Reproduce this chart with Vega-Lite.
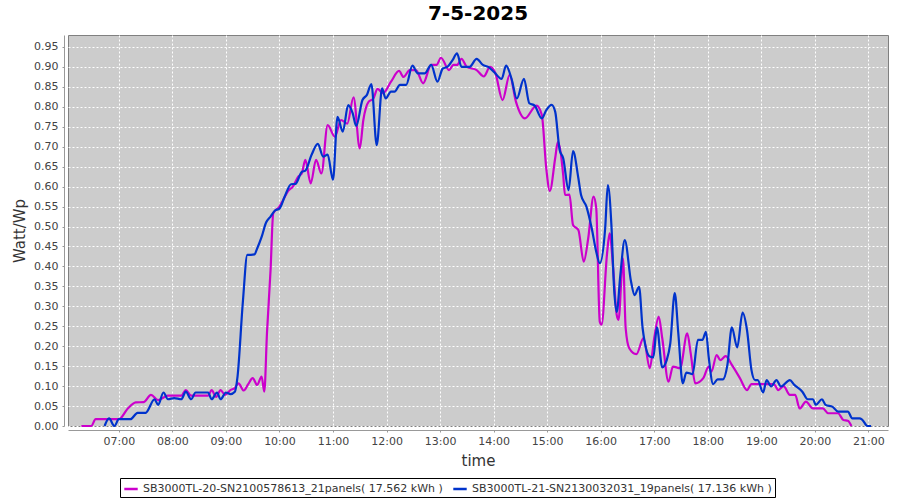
{
  "$schema": "https://vega.github.io/schema/vega-lite/v6.json",
  "width": 820,
  "height": 391,
  "autosize": {"type": "none"},
  "padding": {"left": 68, "top": 35, "right": 12, "bottom": 74},
  "background": "white",
  "title": {"text": "7-5-2025", "fontSize": 20, "fontWeight": "bold", "font": "DejaVu Sans", "color": "#000000", "anchor": "middle", "offset": 11},
  "config": {
    "view": {"fill": "#cccccc", "stroke": "#808080", "strokeWidth": 1},
    "font": "DejaVu Sans"
  },
  "data": {"values": [
    {"s":"a","t":"2025-05-07T06:18","v":0},{"s":"a","t":"2025-05-07T06:29","v":0},{"s":"a","t":"2025-05-07T06:34","v":0.017},{"s":"a","t":"2025-05-07T06:45","v":0.017},{"s":"a","t":"2025-05-07T07:00","v":0.017},{"s":"a","t":"2025-05-07T07:10","v":0.044},{"s":"a","t":"2025-05-07T07:19","v":0.059},{"s":"a","t":"2025-05-07T07:28","v":0.06},{"s":"a","t":"2025-05-07T07:36","v":0.078},{"s":"a","t":"2025-05-07T07:44","v":0.065},{"s":"a","t":"2025-05-07T07:55","v":0.076},{"s":"a","t":"2025-05-07T08:05","v":0.076},{"s":"a","t":"2025-05-07T08:10","v":0.076},{"s":"a","t":"2025-05-07T08:15","v":0.09},{"s":"a","t":"2025-05-07T08:21","v":0.076},{"s":"a","t":"2025-05-07T08:30","v":0.076},{"s":"a","t":"2025-05-07T08:40","v":0.076},{"s":"a","t":"2025-05-07T08:44","v":0.09},{"s":"a","t":"2025-05-07T08:49","v":0.073},{"s":"a","t":"2025-05-07T08:54","v":0.09},{"s":"a","t":"2025-05-07T08:59","v":0.078},{"s":"a","t":"2025-05-07T09:05","v":0.09},{"s":"a","t":"2025-05-07T09:10","v":0.095},{"s":"a","t":"2025-05-07T09:14","v":0.107},{"s":"a","t":"2025-05-07T09:20","v":0.089},{"s":"a","t":"2025-05-07T09:25","v":0.105},{"s":"a","t":"2025-05-07T09:30","v":0.12},{"s":"a","t":"2025-05-07T09:35","v":0.103},{"s":"a","t":"2025-05-07T09:40","v":0.124},{"s":"a","t":"2025-05-07T09:43","v":0.086},{"s":"a","t":"2025-05-07T09:46","v":0.233},{"s":"a","t":"2025-05-07T09:50","v":0.39},{"s":"a","t":"2025-05-07T09:53","v":0.533},{"s":"a","t":"2025-05-07T10:00","v":0.55},{"s":"a","t":"2025-05-07T10:04","v":0.566},{"s":"a","t":"2025-05-07T10:10","v":0.59},{"s":"a","t":"2025-05-07T10:15","v":0.6},{"s":"a","t":"2025-05-07T10:21","v":0.625},{"s":"a","t":"2025-05-07T10:25","v":0.633},{"s":"a","t":"2025-05-07T10:29","v":0.667},{"s":"a","t":"2025-05-07T10:35","v":0.608},{"s":"a","t":"2025-05-07T10:41","v":0.667},{"s":"a","t":"2025-05-07T10:47","v":0.633},{"s":"a","t":"2025-05-07T10:54","v":0.754},{"s":"a","t":"2025-05-07T11:02","v":0.725},{"s":"a","t":"2025-05-07T11:09","v":0.767},{"s":"a","t":"2025-05-07T11:16","v":0.758},{"s":"a","t":"2025-05-07T11:23","v":0.824},{"s":"a","t":"2025-05-07T11:30","v":0.696},{"s":"a","t":"2025-05-07T11:34","v":0.767},{"s":"a","t":"2025-05-07T11:40","v":0.813},{"s":"a","t":"2025-05-07T11:45","v":0.82},{"s":"a","t":"2025-05-07T11:50","v":0.845},{"s":"a","t":"2025-05-07T11:56","v":0.834},{"s":"a","t":"2025-05-07T12:05","v":0.863},{"s":"a","t":"2025-05-07T12:14","v":0.89},{"s":"a","t":"2025-05-07T12:19","v":0.875},{"s":"a","t":"2025-05-07T12:26","v":0.892},{"s":"a","t":"2025-05-07T12:33","v":0.892},{"s":"a","t":"2025-05-07T12:41","v":0.859},{"s":"a","t":"2025-05-07T12:50","v":0.905},{"s":"a","t":"2025-05-07T12:56","v":0.905},{"s":"a","t":"2025-05-07T13:01","v":0.923},{"s":"a","t":"2025-05-07T13:10","v":0.892},{"s":"a","t":"2025-05-07T13:15","v":0.905},{"s":"a","t":"2025-05-07T13:19","v":0.905},{"s":"a","t":"2025-05-07T13:24","v":0.92},{"s":"a","t":"2025-05-07T13:30","v":0.9},{"s":"a","t":"2025-05-07T13:41","v":0.892},{"s":"a","t":"2025-05-07T13:49","v":0.876},{"s":"a","t":"2025-05-07T13:56","v":0.9},{"s":"a","t":"2025-05-07T14:02","v":0.884},{"s":"a","t":"2025-05-07T14:10","v":0.817},{"s":"a","t":"2025-05-07T14:18","v":0.88},{"s":"a","t":"2025-05-07T14:25","v":0.813},{"s":"a","t":"2025-05-07T14:35","v":0.771},{"s":"a","t":"2025-05-07T14:48","v":0.803},{"s":"a","t":"2025-05-07T14:54","v":0.78},{"s":"a","t":"2025-05-07T14:59","v":0.646},{"s":"a","t":"2025-05-07T15:03","v":0.589},{"s":"a","t":"2025-05-07T15:09","v":0.671},{"s":"a","t":"2025-05-07T15:12","v":0.712},{"s":"a","t":"2025-05-07T15:18","v":0.629},{"s":"a","t":"2025-05-07T15:20","v":0.579},{"s":"a","t":"2025-05-07T15:25","v":0.58},{"s":"a","t":"2025-05-07T15:29","v":0.504},{"s":"a","t":"2025-05-07T15:35","v":0.491},{"s":"a","t":"2025-05-07T15:41","v":0.412},{"s":"a","t":"2025-05-07T15:46","v":0.47},{"s":"a","t":"2025-05-07T15:52","v":0.575},{"s":"a","t":"2025-05-07T15:55","v":0.546},{"s":"a","t":"2025-05-07T15:59","v":0.261},{"s":"a","t":"2025-05-07T16:01","v":0.254},{"s":"a","t":"2025-05-07T16:07","v":0.429},{"s":"a","t":"2025-05-07T16:10","v":0.483},{"s":"a","t":"2025-05-07T16:14","v":0.395},{"s":"a","t":"2025-05-07T16:18","v":0.278},{"s":"a","t":"2025-05-07T16:20","v":0.266},{"s":"a","t":"2025-05-07T16:25","v":0.42},{"s":"a","t":"2025-05-07T16:28","v":0.245},{"s":"a","t":"2025-05-07T16:32","v":0.195},{"s":"a","t":"2025-05-07T16:40","v":0.18},{"s":"a","t":"2025-05-07T16:48","v":0.22},{"s":"a","t":"2025-05-07T16:55","v":0.145},{"s":"a","t":"2025-05-07T17:00","v":0.22},{"s":"a","t":"2025-05-07T17:05","v":0.274},{"s":"a","t":"2025-05-07T17:09","v":0.22},{"s":"a","t":"2025-05-07T17:16","v":0.111},{"s":"a","t":"2025-05-07T17:21","v":0.149},{"s":"a","t":"2025-05-07T17:29","v":0.145},{"s":"a","t":"2025-05-07T17:37","v":0.232},{"s":"a","t":"2025-05-07T17:41","v":0.18},{"s":"a","t":"2025-05-07T17:46","v":0.107},{"s":"a","t":"2025-05-07T17:55","v":0.12},{"s":"a","t":"2025-05-07T18:01","v":0.149},{"s":"a","t":"2025-05-07T18:04","v":0.136},{"s":"a","t":"2025-05-07T18:10","v":0.178},{"s":"a","t":"2025-05-07T18:14","v":0.165},{"s":"a","t":"2025-05-07T18:20","v":0.175},{"s":"a","t":"2025-05-07T18:27","v":0.153},{"s":"a","t":"2025-05-07T18:36","v":0.12},{"s":"a","t":"2025-05-07T18:44","v":0.09},{"s":"a","t":"2025-05-07T18:49","v":0.105},{"s":"a","t":"2025-05-07T18:59","v":0.105},{"s":"a","t":"2025-05-07T19:14","v":0.105},{"s":"a","t":"2025-05-07T19:19","v":0.09},{"s":"a","t":"2025-05-07T19:25","v":0.1},{"s":"a","t":"2025-05-07T19:32","v":0.078},{"s":"a","t":"2025-05-07T19:38","v":0.078},{"s":"a","t":"2025-05-07T19:43","v":0.044},{"s":"a","t":"2025-05-07T19:50","v":0.061},{"s":"a","t":"2025-05-07T19:58","v":0.044},{"s":"a","t":"2025-05-07T20:09","v":0.044},{"s":"a","t":"2025-05-07T20:15","v":0.032},{"s":"a","t":"2025-05-07T20:26","v":0.032},{"s":"a","t":"2025-05-07T20:32","v":0.015},{"s":"a","t":"2025-05-07T20:37","v":0.013},{"s":"a","t":"2025-05-07T20:41","v":0},
    {"s":"b","t":"2025-05-07T06:44","v":0},{"s":"b","t":"2025-05-07T06:49","v":0.019},{"s":"b","t":"2025-05-07T06:55","v":0},{"s":"b","t":"2025-05-07T07:00","v":0.017},{"s":"b","t":"2025-05-07T07:13","v":0.017},{"s":"b","t":"2025-05-07T07:21","v":0.033},{"s":"b","t":"2025-05-07T07:30","v":0.033},{"s":"b","t":"2025-05-07T07:40","v":0.067},{"s":"b","t":"2025-05-07T07:44","v":0.053},{"s":"b","t":"2025-05-07T07:50","v":0.084},{"s":"b","t":"2025-05-07T07:55","v":0.067},{"s":"b","t":"2025-05-07T08:02","v":0.07},{"s":"b","t":"2025-05-07T08:10","v":0.067},{"s":"b","t":"2025-05-07T08:15","v":0.086},{"s":"b","t":"2025-05-07T08:21","v":0.067},{"s":"b","t":"2025-05-07T08:26","v":0.084},{"s":"b","t":"2025-05-07T08:40","v":0.084},{"s":"b","t":"2025-05-07T08:44","v":0.067},{"s":"b","t":"2025-05-07T08:50","v":0.084},{"s":"b","t":"2025-05-07T08:54","v":0.067},{"s":"b","t":"2025-05-07T09:00","v":0.084},{"s":"b","t":"2025-05-07T09:05","v":0.08},{"s":"b","t":"2025-05-07T09:10","v":0.086},{"s":"b","t":"2025-05-07T09:13","v":0.124},{"s":"b","t":"2025-05-07T09:19","v":0.312},{"s":"b","t":"2025-05-07T09:24","v":0.429},{"s":"b","t":"2025-05-07T09:28","v":0.429},{"s":"b","t":"2025-05-07T09:32","v":0.43},{"s":"b","t":"2025-05-07T09:35","v":0.445},{"s":"b","t":"2025-05-07T09:40","v":0.474},{"s":"b","t":"2025-05-07T09:45","v":0.51},{"s":"b","t":"2025-05-07T09:50","v":0.525},{"s":"b","t":"2025-05-07T09:55","v":0.54},{"s":"b","t":"2025-05-07T10:00","v":0.545},{"s":"b","t":"2025-05-07T10:06","v":0.576},{"s":"b","t":"2025-05-07T10:13","v":0.606},{"s":"b","t":"2025-05-07T10:18","v":0.607},{"s":"b","t":"2025-05-07T10:25","v":0.637},{"s":"b","t":"2025-05-07T10:29","v":0.64},{"s":"b","t":"2025-05-07T10:36","v":0.68},{"s":"b","t":"2025-05-07T10:43","v":0.707},{"s":"b","t":"2025-05-07T10:49","v":0.675},{"s":"b","t":"2025-05-07T10:54","v":0.68},{"s":"b","t":"2025-05-07T11:00","v":0.617},{"s":"b","t":"2025-05-07T11:05","v":0.775},{"s":"b","t":"2025-05-07T11:11","v":0.738},{"s":"b","t":"2025-05-07T11:17","v":0.804},{"s":"b","t":"2025-05-07T11:22","v":0.784},{"s":"b","t":"2025-05-07T11:26","v":0.752},{"s":"b","t":"2025-05-07T11:33","v":0.817},{"s":"b","t":"2025-05-07T11:38","v":0.83},{"s":"b","t":"2025-05-07T11:43","v":0.857},{"s":"b","t":"2025-05-07T11:49","v":0.704},{"s":"b","t":"2025-05-07T11:55","v":0.846},{"s":"b","t":"2025-05-07T11:59","v":0.821},{"s":"b","t":"2025-05-07T12:05","v":0.838},{"s":"b","t":"2025-05-07T12:09","v":0.838},{"s":"b","t":"2025-05-07T12:15","v":0.855},{"s":"b","t":"2025-05-07T12:22","v":0.855},{"s":"b","t":"2025-05-07T12:29","v":0.903},{"s":"b","t":"2025-05-07T12:35","v":0.884},{"s":"b","t":"2025-05-07T12:43","v":0.884},{"s":"b","t":"2025-05-07T12:50","v":0.905},{"s":"b","t":"2025-05-07T12:57","v":0.863},{"s":"b","t":"2025-05-07T13:03","v":0.896},{"s":"b","t":"2025-05-07T13:08","v":0.9},{"s":"b","t":"2025-05-07T13:14","v":0.917},{"s":"b","t":"2025-05-07T13:19","v":0.934},{"s":"b","t":"2025-05-07T13:24","v":0.9},{"s":"b","t":"2025-05-07T13:33","v":0.9},{"s":"b","t":"2025-05-07T13:41","v":0.92},{"s":"b","t":"2025-05-07T13:48","v":0.905},{"s":"b","t":"2025-05-07T13:54","v":0.9},{"s":"b","t":"2025-05-07T14:01","v":0.886},{"s":"b","t":"2025-05-07T14:09","v":0.87},{"s":"b","t":"2025-05-07T14:14","v":0.903},{"s":"b","t":"2025-05-07T14:20","v":0.871},{"s":"b","t":"2025-05-07T14:26","v":0.821},{"s":"b","t":"2025-05-07T14:34","v":0.87},{"s":"b","t":"2025-05-07T14:40","v":0.809},{"s":"b","t":"2025-05-07T14:46","v":0.803},{"s":"b","t":"2025-05-07T14:54","v":0.771},{"s":"b","t":"2025-05-07T14:59","v":0.792},{"s":"b","t":"2025-05-07T15:05","v":0.805},{"s":"b","t":"2025-05-07T15:09","v":0.788},{"s":"b","t":"2025-05-07T15:14","v":0.692},{"s":"b","t":"2025-05-07T15:18","v":0.671},{"s":"b","t":"2025-05-07T15:24","v":0.591},{"s":"b","t":"2025-05-07T15:29","v":0.689},{"s":"b","t":"2025-05-07T15:35","v":0.621},{"s":"b","t":"2025-05-07T15:38","v":0.579},{"s":"b","t":"2025-05-07T15:44","v":0.55},{"s":"b","t":"2025-05-07T15:50","v":0.495},{"s":"b","t":"2025-05-07T15:55","v":0.437},{"s":"b","t":"2025-05-07T15:59","v":0.408},{"s":"b","t":"2025-05-07T16:05","v":0.495},{"s":"b","t":"2025-05-07T16:08","v":0.604},{"s":"b","t":"2025-05-07T16:12","v":0.504},{"s":"b","t":"2025-05-07T16:15","v":0.345},{"s":"b","t":"2025-05-07T16:18","v":0.286},{"s":"b","t":"2025-05-07T16:22","v":0.378},{"s":"b","t":"2025-05-07T16:27","v":0.466},{"s":"b","t":"2025-05-07T16:34","v":0.362},{"s":"b","t":"2025-05-07T16:38","v":0.328},{"s":"b","t":"2025-05-07T16:43","v":0.349},{"s":"b","t":"2025-05-07T16:47","v":0.245},{"s":"b","t":"2025-05-07T16:55","v":0.174},{"s":"b","t":"2025-05-07T16:59","v":0.172},{"s":"b","t":"2025-05-07T17:03","v":0.247},{"s":"b","t":"2025-05-07T17:09","v":0.147},{"s":"b","t":"2025-05-07T17:14","v":0.165},{"s":"b","t":"2025-05-07T17:18","v":0.207},{"s":"b","t":"2025-05-07T17:23","v":0.333},{"s":"b","t":"2025-05-07T17:27","v":0.232},{"s":"b","t":"2025-05-07T17:32","v":0.107},{"s":"b","t":"2025-05-07T17:36","v":0.134},{"s":"b","t":"2025-05-07T17:43","v":0.13},{"s":"b","t":"2025-05-07T17:49","v":0.216},{"s":"b","t":"2025-05-07T17:54","v":0.216},{"s":"b","t":"2025-05-07T17:58","v":0.236},{"s":"b","t":"2025-05-07T18:01","v":0.174},{"s":"b","t":"2025-05-07T18:06","v":0.105},{"s":"b","t":"2025-05-07T18:11","v":0.117},{"s":"b","t":"2025-05-07T18:17","v":0.117},{"s":"b","t":"2025-05-07T18:22","v":0.153},{"s":"b","t":"2025-05-07T18:27","v":0.247},{"s":"b","t":"2025-05-07T18:33","v":0.197},{"s":"b","t":"2025-05-07T18:39","v":0.284},{"s":"b","t":"2025-05-07T18:44","v":0.24},{"s":"b","t":"2025-05-07T18:49","v":0.14},{"s":"b","t":"2025-05-07T18:53","v":0.115},{"s":"b","t":"2025-05-07T18:56","v":0.115},{"s":"b","t":"2025-05-07T19:02","v":0.084},{"s":"b","t":"2025-05-07T19:06","v":0.115},{"s":"b","t":"2025-05-07T19:11","v":0.099},{"s":"b","t":"2025-05-07T19:17","v":0.115},{"s":"b","t":"2025-05-07T19:22","v":0.099},{"s":"b","t":"2025-05-07T19:32","v":0.115},{"s":"b","t":"2025-05-07T19:37","v":0.103},{"s":"b","t":"2025-05-07T19:46","v":0.086},{"s":"b","t":"2025-05-07T19:52","v":0.067},{"s":"b","t":"2025-05-07T19:58","v":0.067},{"s":"b","t":"2025-05-07T20:01","v":0.053},{"s":"b","t":"2025-05-07T20:08","v":0.067},{"s":"b","t":"2025-05-07T20:12","v":0.053},{"s":"b","t":"2025-05-07T20:20","v":0.048},{"s":"b","t":"2025-05-07T20:26","v":0.036},{"s":"b","t":"2025-05-07T20:37","v":0.036},{"s":"b","t":"2025-05-07T20:42","v":0.019},{"s":"b","t":"2025-05-07T20:50","v":0.019},{"s":"b","t":"2025-05-07T20:53","v":0.016},{"s":"b","t":"2025-05-07T20:59","v":0},{"s":"b","t":"2025-05-07T21:03","v":0}
  ]},
  "mark": {"type": "line", "interpolate": "monotone", "strokeWidth": 2.2},
  "encoding": {
    "x": {
      "field": "t", "type": "temporal", "title": "time",
      "scale": {"domain": [{"year": 2025, "month": 5, "date": 7, "hours": 6, "minutes": 3}, {"year": 2025, "month": 5, "date": 7, "hours": 21, "minutes": 22}]},
      "axis": {"format": "%H:%M", "tickCount": "hour", "labelFont": "DejaVu Sans", "labelFontSize": 11, "labelColor": "#444444", "titleFont": "DejaVu Sans", "titleFontSize": 15, "titleFontWeight": "normal", "titleColor": "#333333", "titlePadding": 7, "offset": 4, "tickSize": 2, "tickColor": "#999999", "domainColor": "#999999", "labelPadding": 3, "grid": true, "gridColor": "#ffffff", "gridDash": [2, 2], "gridOpacity": 1, "labelFlush": false}
    },
    "y": {
      "field": "v", "type": "quantitative", "title": "Watt/Wp",
      "scale": {"domain": [0, 0.98], "nice": false},
      "axis": {"values": [0, 0.05, 0.1, 0.15, 0.2, 0.25, 0.3, 0.35, 0.4, 0.45, 0.5, 0.55, 0.6, 0.65, 0.7, 0.75, 0.8, 0.85, 0.9, 0.95], "format": ".2f", "labelFont": "DejaVu Sans", "labelFontSize": 11, "labelColor": "#444444", "titleFont": "DejaVu Sans", "titleFontSize": 15, "titleFontWeight": "normal", "titleColor": "#333333", "titlePadding": 6, "offset": 4, "tickSize": 2, "tickColor": "#999999", "domainColor": "#999999", "labelPadding": 4, "grid": true, "gridColor": "#ffffff", "gridDash": [2, 2], "gridOpacity": 1}
    },
    "color": {
      "field": "s", "type": "nominal",
      "scale": {"domain": ["a", "b"], "range": ["#cc00cc", "#0033cc"]},
      "legend": {"title": null, "orient": "none", "legendX": 52, "legendY": 443, "direction": "horizontal", "symbolType": "stroke", "symbolSize": 180, "symbolStrokeWidth": 2.5, "labelFont": "DejaVu Sans", "labelFontSize": 11, "labelColor": "#333333", "labelOffset": 4, "columnPadding": 5, "padding": 3, "strokeColor": "#000000", "fillColor": "#ffffff", "labelLimit": 400,
        "labelExpr": "datum.value == 'a' ? 'SB3000TL-20-SN2100578613_21panels( 17.562 kWh )' : 'SB3000TL-21-SN2130032031_19panels( 17.136 kWh )'"}
    }
  }
}
